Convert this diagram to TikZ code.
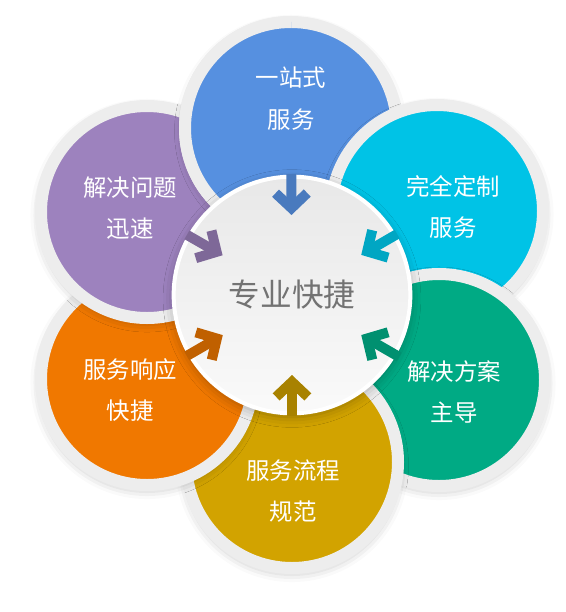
\documentclass[tikz,border=0pt]{standalone}
\usepackage{fontspec}
\newfontfamily\cjk{Noto Sans CJK SC}
\usetikzlibrary{arrows.meta,shadows.blur}

\definecolor{cblue}{HTML}{5690E0}
\definecolor{ccyan}{HTML}{00C3E6}
\definecolor{cgreen}{HTML}{00AA84}
\definecolor{cgold}{HTML}{D2A300}
\definecolor{corange}{HTML}{F07800}
\definecolor{cpurple}{HTML}{9D82BE}

\begin{document}
\begin{tikzpicture}[x=0.03cm,y=-0.03cm]
    \tikzset{flat/.style = {shape=circle,draw=black!7,line width=0.36cm,minimum size=6.36cm,inner sep=0pt}}
    \tikzset{petal/.style = {flat,
        blur shadow={shadow xshift=0pt,shadow yshift=-3pt,shadow blur radius=9pt,shadow opacity=30}}}
    \tikzset{hub/.style = {shape=circle,draw=white,line width=0.12cm,minimum size=7.1cm,inner sep=0pt,
        top color=black!9,bottom color=black!2,text=black!55,font=\cjk\fontsize{27}{32}\selectfont,
        blur shadow={shadow xshift=0pt,shadow yshift=-3pt,shadow blur radius=9pt,shadow opacity=30}}}
    \tikzset{caption/.style = {text=white,align=center,font=\cjk\fontsize{20}{35.7}\selectfont}}
    \tikzset{edge/.style = {line width=0.3cm,-{Straight Barb[length=0.45cm,width=0.95cm]},
        shorten <=1.38cm,shorten >=2.4cm}}
    \useasboundingbox (0,0) rectangle (566,612);

    % petals
    \node[petal,fill=cblue] (serve) at (291,128) {};
    \node[petal,fill=ccyan] (custom) at (437,211) {};
    \node[petal,fill=cgreen] (plan) at (439,380) {};
    \node[petal,fill=cgold] (flow) at (292,462) {};
    \node[petal,fill=corange] (react) at (147,379) {};
    \node[petal,fill=cpurple] (solve) at (147,212) {};
    % blue lies on purple again
    \begin{scope}
        \clip (solve.center) circle[radius=3.4cm];
        \node[petal,fill=cblue] (serveshade) at (291,128) {};
    \end{scope}
    \begin{scope}
        \clip (0,0) rectangle (291,260);
        \node[flat,fill=cblue] (servetop) at (291,128) {};
    \end{scope}

    % captions
    \node[caption] (servetext) at (291,99) {一站式\\服务};
    \node[caption] (customtext) at (453,207) {完全定制\\服务};
    \node[caption] (plantext) at (454,392) {解决方案\\主导};
    \node[caption] (flowtext) at (293,491) {服务流程\\规范};
    \node[caption] (reacttext) at (130,390) {服务响应\\快捷};
    \node[caption] (solvetext) at (130,208) {解决问题\\迅速};

    \node[hub] (hub) at (292,295) {专业快捷};

    % arrows
    \draw[edge,draw=cblue!85!black] (serve.center) -- (hub.center);
    \draw[edge,draw=ccyan!85!black] (custom.center) -- (hub.center);
    \draw[edge,draw=cgreen!85!black] (plan.center) -- (hub.center);
    \draw[edge,draw=cgold!80!black] (flow.center) -- (hub.center);
    \draw[edge,draw=corange!80!black] (react.center) -- (hub.center);
    \draw[edge,draw=cpurple!80!black] (solve.center) -- (hub.center);
\end{tikzpicture}
\end{document}
